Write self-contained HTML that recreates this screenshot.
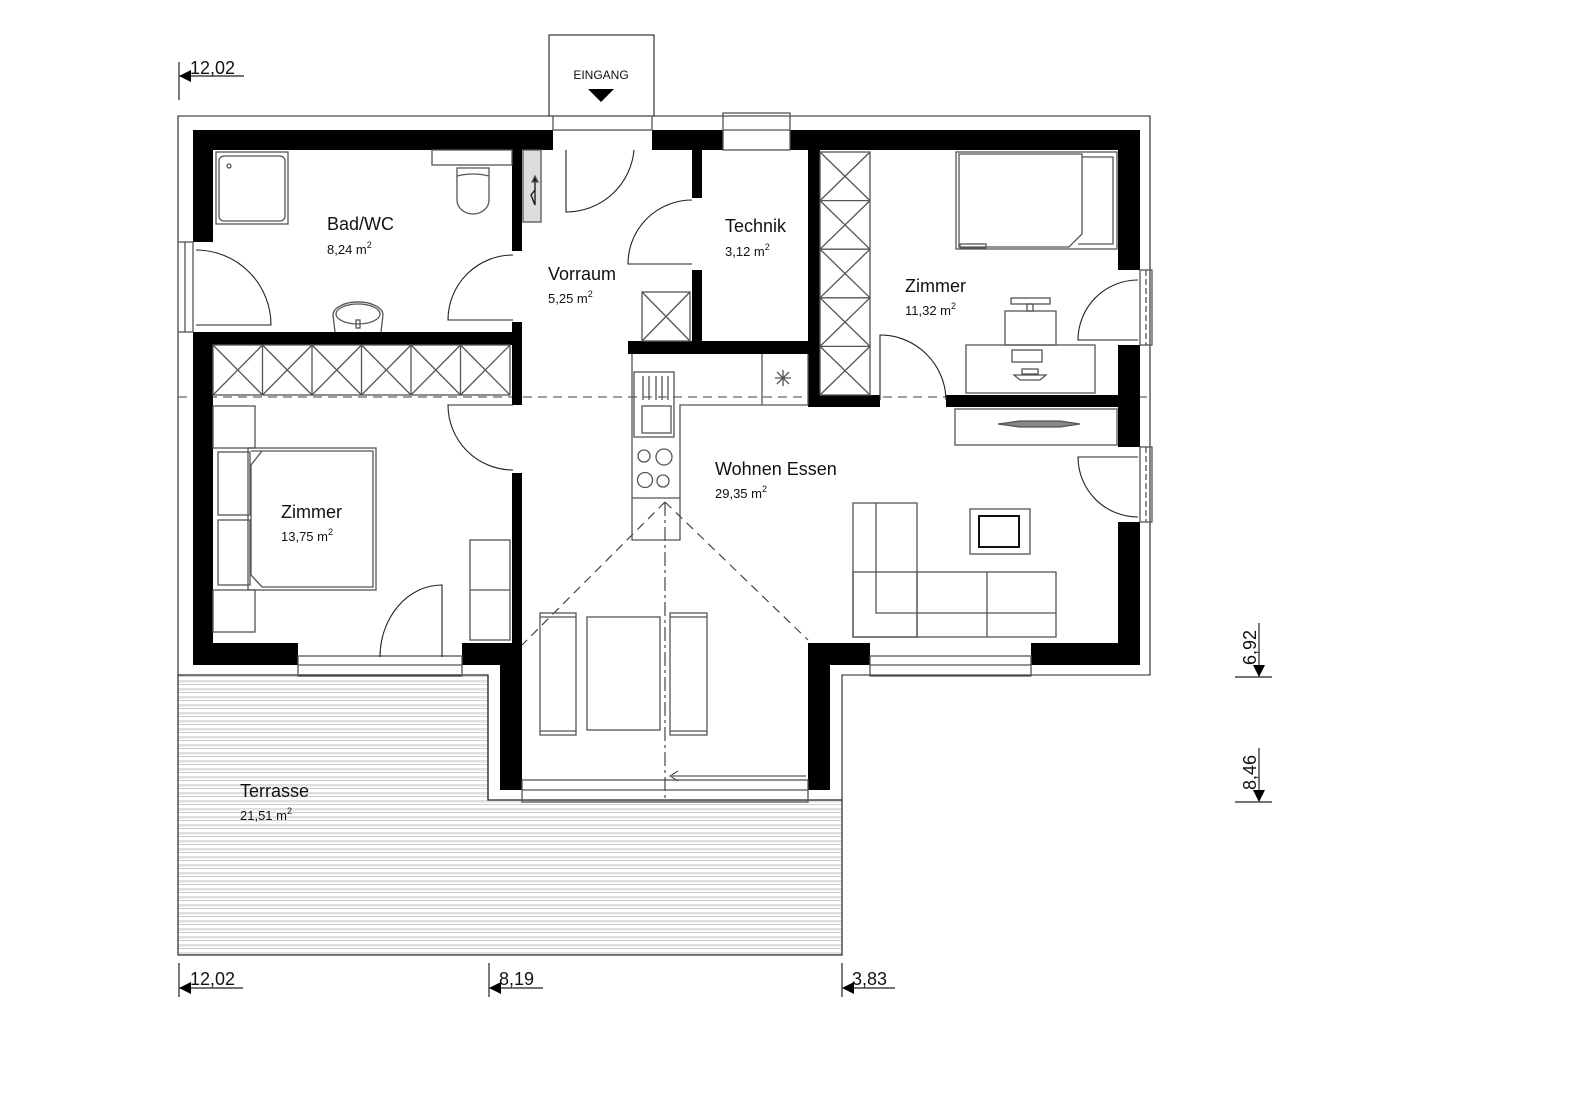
<!DOCTYPE html>
<html><head><meta charset="utf-8"><style>
html,body{margin:0;padding:0;background:#fff;}
svg{display:block;}
text{font-family:"Liberation Sans",Arial,sans-serif;fill:#111;}
.f{fill:none;stroke:#555;stroke-width:1.3;}
.k{fill:none;stroke:#222;stroke-width:1.1;}
.w{fill:#000;}
</style></head><body>
<svg width="1571" height="1110" viewBox="0 0 1571 1110" xmlns="http://www.w3.org/2000/svg">
<rect width="1571" height="1110" fill="#fff"/>
<defs>
<pattern id="st" width="10" height="8" patternUnits="userSpaceOnUse">
<rect width="10" height="8" fill="#fff"/>
<rect y="0" width="10" height="2.5" fill="#e0e0e0"/>
<rect y="4" width="10" height="0.7" fill="#bbb"/>
</pattern>
</defs>
<path d="M178,675 H488 V800 H842 V955 H178 Z" fill="url(#st)" stroke="#333" stroke-width="1.3"/>
<path class="k" d="M178,116 H1150 V675 H842 V800 H488 V675 H178 Z" fill="none" stroke-width="1.3"/>
<rect class="k" x="549" y="35" width="105" height="81"/>
<text x="601" y="79" font-size="12" text-anchor="middle">EINGANG</text>
<polygon points="588,89 614,89 601,102" fill="#000"/>
<line x1="178" y1="397" x2="1150" y2="397" stroke="#666" stroke-width="1.3" stroke-dasharray="9,6"/>
<g class="w">
<rect x="193" y="130" width="360" height="20"/>
<rect x="652" y="130" width="71" height="20"/>
<rect x="790" y="130" width="350" height="20"/>
<rect x="193" y="130" width="20" height="112"/>
<rect x="193" y="332" width="20" height="333"/>
<rect x="193" y="643" width="105" height="22"/>
<rect x="462" y="643" width="60" height="22"/>
<rect x="500" y="643" width="22" height="147"/>
<rect x="808" y="643" width="62" height="22"/>
<rect x="808" y="643" width="22" height="147"/>
<rect x="1031" y="643" width="109" height="22"/>
<rect x="1118" y="130" width="22" height="140"/>
<rect x="1118" y="345" width="22" height="102"/>
<rect x="1118" y="522" width="22" height="143"/>
<rect x="193" y="332" width="329" height="13"/>
<rect x="512" y="150" width="10" height="101"/>
<rect x="512" y="322" width="10" height="83"/>
<rect x="512" y="473" width="10" height="172"/>
<rect x="692" y="150" width="10" height="48"/>
<rect x="692" y="270" width="10" height="73"/>
<rect x="628" y="341" width="192" height="13"/>
<rect x="808" y="150" width="12" height="257"/>
<rect x="808" y="395" width="72" height="12"/>
<rect x="946" y="395" width="194" height="12"/>
</g>
<g class="f" stroke="#444">
<rect x="178" y="242" width="15" height="90"/><line x1="185" y1="242" x2="185" y2="332"/>
<rect x="1140" y="270" width="12" height="75"/><line x1="1146" y1="270" x2="1146" y2="345" stroke-dasharray="6,3"/>
<rect x="1140" y="447" width="12" height="75"/><line x1="1146" y1="447" x2="1146" y2="522" stroke-dasharray="6,3"/>
<rect x="723" y="113" width="67" height="37"/><line x1="723" y1="130" x2="790" y2="130"/>
<rect x="553" y="116" width="99" height="14"/>
<rect x="298" y="656" width="164" height="20"/><line x1="298" y1="665" x2="462" y2="665"/>
<rect x="870" y="656" width="161" height="20"/><line x1="870" y1="665" x2="1031" y2="665"/>
<rect x="522" y="780" width="286" height="22"/><line x1="522" y1="790" x2="808" y2="790"/>
</g>
<line x1="672" y1="776" x2="806" y2="776" stroke="#333" stroke-width="1"/>
<path d="M678,771 L670,776 L678,781" fill="none" stroke="#333"/>
<g stroke="#444" stroke-width="1.2" fill="none" stroke-dasharray="9,6">
<line x1="665" y1="502" x2="522" y2="645"/>
<line x1="665" y1="502" x2="808" y2="640"/>
<line x1="665" y1="502" x2="665" y2="800" stroke-dasharray="14,4,3,4"/>
</g>
<g class="k">
<path d="M196,250 A75,75 0 0 1 271,325 L196,325"/>
<path d="M513,255 A65,65 0 0 0 448,320 L513,320"/>
<path d="M566,150 L566,212 A68,68 0 0 0 634,150"/>
<path d="M692,200 A64,64 0 0 0 628,264 L692,264"/>
<path d="M513,405 L448,405 A65,65 0 0 0 513,470"/>
<path d="M442,657 L442,585 A62,72 0 0 0 380,657"/>
<path d="M880,400 L880,335 A66,66 0 0 1 946,400"/>
<path d="M1138,340 L1078,340 A60,60 0 0 1 1138,280"/>
<path d="M1138,457 L1078,457 A60,60 0 0 0 1138,517"/>
</g>
<g class="f" stroke="#333" stroke-width="1">
<rect x="213" y="345" width="297" height="50"/>
<path d="M213,345 L262.5,395 M262.5,345 L213,395 M262.5,345 L312,395 M312,345 L262.5,395 M312,345 L361.5,395 M361.5,345 L312,395 M361.5,345 L411,395 M411,345 L361.5,395 M411,345 L460.5,395 M460.5,345 L411,395 M460.5,345 L510,395 M510,345 L460.5,395 M262.5,345 V395 M312,345 V395 M361.5,345 V395 M411,345 V395 M460.5,345 V395"/>
<rect x="820" y="152" width="50" height="243"/>
<path d="M820,152 L870,200.6 M870,152 L820,200.6 M820,200.6 L870,249.2 M870,200.6 L820,249.2 M820,249.2 L870,297.8 M870,249.2 L820,297.8 M820,297.8 L870,346.4 M870,297.8 L820,346.4 M820,346.4 L870,395 M870,346.4 L820,395 M820,200.6 H870 M820,249.2 H870 M820,297.8 H870 M820,346.4 H870"/>
<rect x="642" y="292" width="48" height="49"/>
<path d="M642,292 L690,341 M690,292 L642,341"/>
</g>
<g class="f">
<rect x="216" y="152" width="72" height="72"/>
<rect x="219" y="156" width="66" height="65" rx="5"/>
<circle cx="229" cy="166" r="2"/>
<rect x="432" y="150" width="80" height="15"/>
<path d="M457,168 H489 V200 A16,14 0 0 1 457,200 Z"/>
<path d="M457,176 Q473,172 489,176"/>
<path d="M335,332 L333,315 A23,12 0 0 1 383,315 L381,332"/>
<ellipse cx="358" cy="314" rx="22" ry="10"/>
<rect x="356" y="320" width="4" height="8"/>
<rect x="523" y="150" width="18" height="72" fill="#ddd"/>
<path d="M535,180 V205 L531,195 L535,190" stroke="#111"/>
<polygon points="532,182 535,176 538,182" fill="#111"/>
</g>
<g class="f">
<rect x="213" y="406" width="42" height="42"/>
<rect x="213" y="590" width="42" height="42"/>
<rect x="218" y="452" width="32" height="63"/>
<rect x="218" y="520" width="32" height="65"/>
<rect x="248" y="448" width="128" height="142"/>
<path d="M251,451 H373 V587 H262 L251,575 V465 L262,451"/>
<rect x="470" y="540" width="40" height="100"/><line x1="470" y1="590" x2="510" y2="590"/>
</g>
<g class="f">
<rect x="540" y="613" width="36" height="122"/><line x1="540" y1="617" x2="576" y2="617"/><line x1="540" y1="731" x2="576" y2="731"/>
<rect x="587" y="617" width="73" height="113"/>
<rect x="670" y="613" width="37" height="122"/><line x1="670" y1="617" x2="707" y2="617"/><line x1="670" y1="731" x2="707" y2="731"/>
</g>
<g class="f" stroke="#333" stroke-width="1">
<path d="M632,354 V540 H680 V405 H808 V354"/>
<line x1="762" y1="354" x2="762" y2="405"/>
<line x1="632" y1="498" x2="680" y2="498"/>
<rect x="634" y="372" width="40" height="65"/>
<rect x="642" y="406" width="29" height="27"/>
<path d="M643,376 V400 M649,376 V400 M656,376 V400 M662,376 V400 M668,376 V400"/>
<circle cx="644" cy="456" r="6"/><circle cx="664" cy="457" r="8"/>
<circle cx="645" cy="480" r="7.5"/><circle cx="663" cy="481" r="6"/>
<path d="M783,370 V386 M775,378 H791 M777,372 L789,384 M789,372 L777,384"/>
</g>
<g class="f">
<rect x="956" y="152" width="161" height="97"/>
<path d="M959,154 H1082 V234 L1069,247 H959 Z"/>
<path d="M1082,157 H1113 V244 H1078"/>
<rect x="960" y="244" width="26" height="4"/>
<rect x="966" y="345" width="129" height="48"/>
<rect x="1005" y="311" width="51" height="34"/>
<rect x="1011" y="298" width="39" height="6"/><rect x="1027" y="304" width="6" height="7"/>
<rect x="1012" y="350" width="30" height="12"/>
<path d="M1014,375 H1046 L1040,380 H1020 Z"/><rect x="1022" y="369" width="16" height="5"/>
<rect x="955" y="409" width="162" height="36"/>
<path d="M998,424 L1020,421 H1060 L1080,424 L1060,427 H1020 Z" fill="#888"/>
</g>
<g class="f" stroke="#444">
<rect x="853" y="503" width="64" height="134"/>
<rect x="853" y="572" width="203" height="65"/>
<path d="M876,503 V613 H1056 M987,572 V637 M917,572 V637"/>
<rect x="970" y="509" width="60" height="45"/>
<rect x="979" y="516" width="40" height="31" stroke="#111" stroke-width="2"/>
</g>
<g font-size="18">
<text x="327" y="230">Bad/WC</text>
<text x="548" y="280">Vorraum</text>
<text x="725" y="232">Technik</text>
<text x="905" y="292">Zimmer</text>
<text x="281" y="518">Zimmer</text>
<text x="715" y="475">Wohnen Essen</text>
<text x="240" y="797">Terrasse</text>
</g>
<g font-size="13">
<text x="327" y="254">8,24 m<tspan font-size="9" dy="-6">2</tspan></text>
<text x="548" y="303">5,25 m<tspan font-size="9" dy="-6">2</tspan></text>
<text x="725" y="256">3,12 m<tspan font-size="9" dy="-6">2</tspan></text>
<text x="905" y="315">11,32 m<tspan font-size="9" dy="-6">2</tspan></text>
<text x="281" y="541">13,75 m<tspan font-size="9" dy="-6">2</tspan></text>
<text x="715" y="498">29,35 m<tspan font-size="9" dy="-6">2</tspan></text>
<text x="240" y="820">21,51 m<tspan font-size="9" dy="-6">2</tspan></text>
</g>
<g stroke="#222" stroke-width="1.2">
<line x1="179" y1="62" x2="179" y2="100"/><line x1="180" y1="76" x2="244" y2="76"/>
<line x1="179" y1="963" x2="179" y2="997"/><line x1="180" y1="988" x2="243" y2="988"/>
<line x1="489" y1="963" x2="489" y2="997"/><line x1="490" y1="988" x2="543" y2="988"/>
<line x1="842" y1="963" x2="842" y2="997"/><line x1="843" y1="988" x2="895" y2="988"/>
<line x1="1259" y1="623" x2="1259" y2="676"/><line x1="1235" y1="677" x2="1272" y2="677"/>
<line x1="1259" y1="748" x2="1259" y2="801"/><line x1="1235" y1="802" x2="1272" y2="802"/>
</g>
<g fill="#000">
<polygon points="179,76 191,70 191,82"/>
<polygon points="179,988 191,982 191,994"/>
<polygon points="489,988 501,982 501,994"/>
<polygon points="842,988 854,982 854,994"/>
<polygon points="1259,677 1253,665 1265,665"/>
<polygon points="1259,802 1253,790 1265,790"/>
</g>
<g font-size="18">
<text x="190" y="74">12,02</text>
<text x="190" y="985">12,02</text>
<text x="499" y="985">8,19</text>
<text x="852" y="985">3,83</text>
<text transform="translate(1256,665) rotate(-90)">6,92</text>
<text transform="translate(1256,790) rotate(-90)">8,46</text>
</g>
</svg>
</body></html>
